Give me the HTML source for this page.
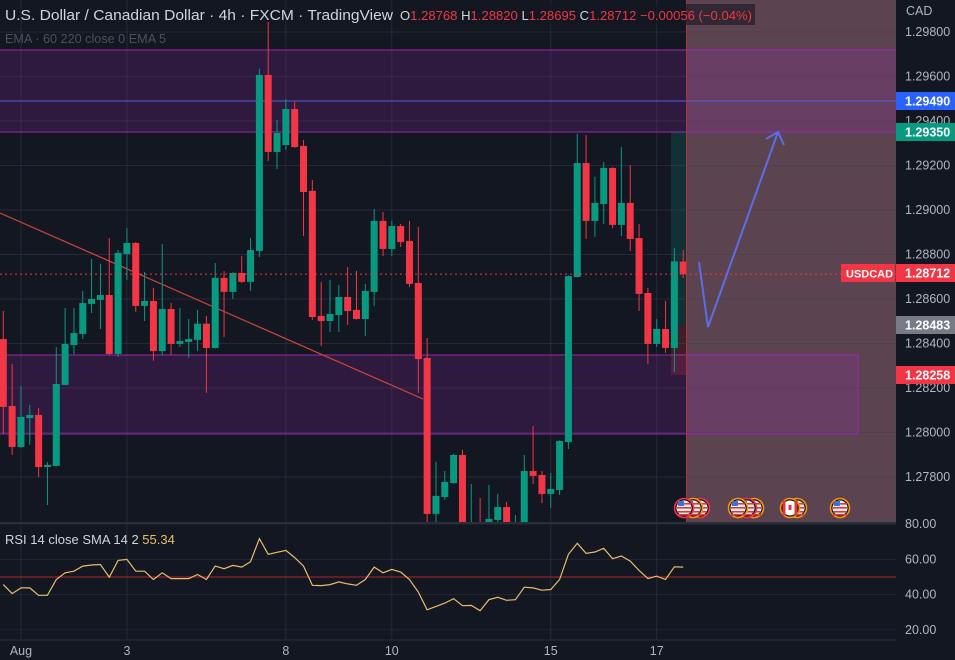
<!DOCTYPE html>
<html><head><meta charset="utf-8">
<style>
html,body{margin:0;padding:0;background:#131722;width:955px;height:660px;overflow:hidden;font-family:"Liberation Sans",sans-serif}
svg{display:block}
</style></head>
<body>
<svg id="chart" width="955" height="660" xmlns="http://www.w3.org/2000/svg"></svg>
<script>
const opens=[1.28420,1.28119,1.27935,1.28065,1.28079,1.27845,1.27850,1.28214,1.28393,1.28443,1.28578,1.28596,1.28618,1.28353,1.28802,1.28852,1.28569,1.28591,1.28366,1.28555,1.28398,1.28407,1.28416,1.28489,1.28380,1.28695,1.28632,1.28717,1.28677,1.28816,1.29607,1.29261,1.29292,1.29454,1.29288,1.29086,1.28524,1.28501,1.28528,1.28609,1.28551,1.28510,1.28632,1.28951,1.28825,1.28928,1.28861,1.28672,1.28335,1.27634,1.27710,1.27773,1.27899,1.27540,1.27559,1.27540,1.27607,1.27665,1.27540,1.27517,1.27827,1.27809,1.27724,1.27742,1.27957,1.28699,1.29211,1.28951,1.29027,1.29189,1.28933,1.29032,1.28874,1.28627,1.28398,1.28465,1.28380,1.28768];
const highs=[1.28546,1.28308,1.28209,1.28124,1.28110,1.27867,1.28384,1.28560,1.28560,1.28636,1.28780,1.28759,1.28874,1.28820,1.28919,1.28855,1.28722,1.28650,1.28847,1.28582,1.28560,1.28510,1.28551,1.28524,1.28762,1.28726,1.28720,1.28793,1.28874,1.29634,1.29845,1.29405,1.29499,1.29486,1.29315,1.29135,1.28677,1.28686,1.28663,1.28744,1.28726,1.28668,1.29005,1.28991,1.28951,1.28937,1.28951,1.28924,1.28425,1.27868,1.27827,1.27904,1.27922,1.27769,1.27706,1.27764,1.27724,1.27688,1.27629,1.27899,1.28029,1.27827,1.27818,1.27965,1.28706,1.29342,1.29337,1.29149,1.29216,1.29192,1.29283,1.29202,1.28937,1.28650,1.28510,1.28591,1.28830,1.28820];
const lows=[1.27993,1.27899,1.27930,1.27944,1.27800,1.27674,1.27848,1.28212,1.28353,1.28420,1.28537,1.28465,1.28348,1.28340,1.28686,1.28542,1.28501,1.28322,1.28348,1.28348,1.28384,1.28335,1.28366,1.28178,1.28378,1.28429,1.28600,1.28672,1.28636,1.28789,1.29220,1.29184,1.29270,1.29279,1.28883,1.28506,1.28389,1.28452,1.28452,1.28483,1.28508,1.28434,1.28569,1.28793,1.28793,1.28834,1.28654,1.28178,1.27584,1.27584,1.27697,1.27770,1.27495,1.27495,1.27495,1.27517,1.27584,1.27517,1.27495,1.27510,1.27769,1.27683,1.27661,1.27719,1.27926,1.28697,1.28870,1.28879,1.28937,1.28919,1.28883,1.28816,1.28546,1.28308,1.28384,1.28358,1.28272,1.28695];
const closes=[1.28115,1.27935,1.28070,1.28079,1.27845,1.27854,1.28218,1.28398,1.28447,1.28582,1.28600,1.28618,1.28353,1.28807,1.28852,1.28569,1.28591,1.28366,1.28555,1.28398,1.28411,1.28420,1.28489,1.28380,1.28695,1.28632,1.28717,1.28677,1.28820,1.29607,1.29261,1.29346,1.29454,1.29283,1.29081,1.28519,1.28501,1.28533,1.28609,1.28546,1.28510,1.28636,1.28951,1.28825,1.28928,1.28856,1.28668,1.28330,1.27634,1.27715,1.27778,1.27899,1.27517,1.27559,1.27540,1.27611,1.27665,1.27540,1.27584,1.27827,1.27805,1.27724,1.27746,1.27962,1.28703,1.29211,1.28951,1.29032,1.29189,1.28933,1.29032,1.28870,1.28623,1.28398,1.28465,1.28380,1.28769,1.28712];
const rsiValues=[45.7,40.6,43.8,43.8,39.6,39.6,48.6,52.4,53.3,56.2,56.8,57.1,49.9,59.4,60,53.3,53.3,48.6,52.4,49.1,49.1,49.1,51.4,48.6,56.2,54.7,56.6,55.6,58.7,71.8,62.9,64,65.1,61,56.2,45.3,45.1,45.7,47.2,46.1,45.3,48.6,55.6,52.4,54.3,52.8,48.6,41.5,31.4,33.3,35.2,37.7,33.7,33.9,30.9,37.1,38.5,36.8,37.1,44.2,43.8,42.5,42.9,48.6,62.9,69.1,63.4,64.2,66.3,60.4,61.9,59,53.7,49.1,50.5,48.6,55.8,55.6];
const priceTicks=[1.298,1.296,1.294,1.292,1.290,1.288,1.286,1.284,1.282,1.280,1.278];
const priceTickLabels=["1.29800","1.29600","1.29400","1.29200","1.29000","1.28800","1.28600","1.28400","1.28200","1.28000","1.27800"];
const rsiTicks=[80,60,40,20];
const rsiTickLabels=["80.00","60.00","40.00","20.00"];
const dateIndex=[2,14,32,44,62,74];
const dateLabels=["Aug","3","8","10","15","17"];

const NS="http://www.w3.org/2000/svg";
const svg=document.getElementById('chart');
const X0=3.3,DX=8.83;
const xS=i=>X0+i*DX;
const yP=p=>32+(1.298-p)*22250;
const yR=v=>577-(v-50)*1.7625;
function el(tag,attrs,parent){const e=document.createElementNS(NS,tag);for(const k in attrs)e.setAttribute(k,attrs[k]);(parent||svg).appendChild(e);return e;}
function txt(s,attrs,parent){const e=el('text',attrs,parent);e.textContent=s;return e;}

const defs=el('defs',{});
const cp=el('clipPath',{id:'mainclip'},defs);el('rect',{x:0,y:0,width:896,height:522},cp);
const cp2=el('clipPath',{id:'rsiclip'},defs);el('rect',{x:0,y:523,width:896,height:117},cp2);

// pink forecast region (below everything)
const pr=el('rect',{x:686,y:0,width:210,height:522,fill:'#5c4350'});



// grid
const grid=el('g',{});


priceTicks.forEach(p=>el('line',{x1:0,x2:896,y1:yP(p),y2:yP(p),stroke:'rgba(60,64,80,0.45)','stroke-width':1},grid));
rsiTicks.forEach(v=>el('line',{x1:0,x2:896,y1:yR(v),y2:yR(v),stroke:'#232632','stroke-width':1},grid));
dateIndex.forEach(i=>el('line',{x1:xS(i),x2:xS(i),y1:0,y2:640,stroke:'rgba(60,64,80,0.45)','stroke-width':1},grid));

// zones
const zones=el('g',{'clip-path':'url(#mainclip)'});


el('rect',{x:0,y:50,width:896,height:82,fill:'rgba(156,39,176,0.2)'},zones);
el('line',{x1:0,x2:896,y1:50,y2:50,stroke:'#9c27b0','stroke-width':1},zones);
el('line',{x1:0,x2:896,y1:132,y2:132,stroke:'#9c27b0','stroke-width':1},zones);
el('line',{x1:0,x2:896,y1:101,y2:101,stroke:'#5b5fd0','stroke-width':1},zones);
el('rect',{x:-1,y:355,width:859,height:79,fill:'rgba(156,39,176,0.2)',stroke:'#9c27b0','stroke-width':1},zones);

// position box
el('rect',{x:671,y:132,width:15,height:193,fill:'rgba(8,153,129,0.2)'});
el('rect',{x:671,y:325,width:15,height:50,fill:'rgba(242,54,69,0.2)'});

const tl=el('line',{x1:0,y1:213,x2:423,y2:399,stroke:'#d2453a','stroke-width':1.2});



const cg=el('g',{'clip-path':'url(#mainclip)'});


for(let i=0;i<opens.length;i++){
  const up=closes[i]>=opens[i];const c=up?'#089981':'#f23645';const x=xS(i);
  const g=el('g',{},cg);
  
  
  el('line',{x1:x,x2:x,y1:yP(highs[i]),y2:yP(lows[i]),stroke:c,'stroke-width':1},g);
  const t=yP(Math.max(opens[i],closes[i])),b=yP(Math.min(opens[i],closes[i]));
  el('rect',{x:x-3.5,y:t,width:7,height:Math.max(1.5,b-t),fill:c},g);
}

el('line',{x1:686.5,x2:686.5,y1:0,y2:522,stroke:'#b2303a','stroke-width':1});
el('line',{x1:0,x2:896,y1:yP(closes[closes.length-1]),y2:yP(closes[closes.length-1]),stroke:'#f23645','stroke-width':1,'stroke-dasharray':'2 3'});

const ar=el('polyline',{points:'699,262 708,327 778,132',fill:'none',stroke:'#5b6ee8','stroke-width':2});


el('polyline',{points:'766,139 778,132 784,145',fill:'none',stroke:'#5b6ee8','stroke-width':2});

const evx=[684,693,700,738,747,754,790,797,840];
const evc=['#f23645','#ff9800','#f23645','#ff9800','#f23645','#ff9800','#ff9800','#ff9800','#ff9800'];
for(let k=evx.length-1;k>=0;k--){
  const g=el('g',{});
  
  
  const ca=(k==6);
  el('circle',{cx:evx[k],cy:508,r:9.5,fill:'#131722',stroke:evc[k],'stroke-width':1.5},g);
  el('circle',{cx:evx[k],cy:508,r:7.5,fill:ca?'#fff':'#f0f0f0'},g);
  if(ca){el('rect',{x:evx[k]-7.5,y:500.5,width:3,height:15,fill:'#e0353a'},g);el('rect',{x:evx[k]+4.5,y:500.5,width:3,height:15,fill:'#e0353a'},g);el('rect',{x:evx[k]-1.5,y:505,width:3,height:5,fill:'#e0353a'},g);}
  else{[503,507,511,514].forEach(yy=>el('rect',{x:evx[k]-7,y:yy,width:14,height:1.6,fill:'#e0353a'},g));el('rect',{x:evx[k]-6,y:501,width:6,height:5,fill:'#3b72d9'},g);}
}

el('rect',{x:0,y:522,width:955,height:2,fill:'#2a2e39'});
el('rect',{x:896,y:0,width:59,height:660,fill:'#131722'});
el('line',{x1:0,x2:896,y1:640,y2:640,stroke:'#2a2e39'});

el('line',{x1:0,x2:896,y1:yR(50),y2:yR(50),stroke:'#b2232c','stroke-width':1});
let pts=rsiValues.map((v,i)=>xS(i).toFixed(1)+','+yR(v).toFixed(1)).join(' ');
const rl=el('polyline',{points:pts,fill:'none',stroke:'#e8bd6a','stroke-width':1.2,'clip-path':'url(#rsiclip)'});



const ax=el('g',{'font-size':'12.5',fill:'#b2b5be'});


priceTicks.forEach((p,i)=>txt(priceTickLabels[i],{x:905,y:yP(p)+4},ax));
rsiTicks.forEach((v,i)=>txt(rsiTickLabels[i],{x:905,y:yR(v)+4},ax));
txt('CAD',{x:906,y:15},ax);
const tx=el('g',{'font-size':'12.5',fill:'#b2b5be','text-anchor':'middle'});


dateIndex.forEach((i,k)=>txt(dateLabels[k],{x:xS(i),y:655},tx));

function badge(y,label,bg,name){const g=el('g',{});el('rect',{x:896,y:y-9,width:59,height:18,fill:bg},g);txt(label,{x:905,y:y+4.5,'font-size':'12.5','font-weight':'bold',fill:'#fff'},g);return g;}
badge(101,'1.29490','#2962ff','badge-1-29490');
badge(132,'1.29350','#089981','badge-1-29350');
badge(273,'1.28712','#f23645','badge-last-price');
badge(325,'1.28483','#787b86','badge-1-28483');
badge(375,'1.28258','#f23645','badge-1-28258');
const sl=el('g',{});
el('rect',{x:841,y:264,width:54,height:18,fill:'#f23645'},sl);
txt('USDCAD',{x:846,y:277.5,'font-size':'11','font-weight':'bold',fill:'#fff'},sl);

const hd=el('g',{});


el('rect',{x:400,y:4,width:355,height:21,fill:'rgba(19,23,34,0.6)'},hd);
txt('U.S. Dollar / Canadian Dollar · 4h · FXCM · TradingView',{x:5,y:20,fill:'#d1d4dc','font-size':'15',textLength:388,lengthAdjust:'spacingAndGlyphs'},hd);
const t2=txt('',{x:400,y:20,'font-size':'13',fill:'#d1d4dc',textLength:352,lengthAdjust:'spacingAndGlyphs'},hd);
t2.innerHTML='O<tspan fill="#f23645">1.28768 </tspan>H<tspan fill="#f23645">1.28820 </tspan>L<tspan fill="#f23645">1.28695 </tspan>C<tspan fill="#f23645">1.28712 −0.00056 (−0.04%)</tspan>';
txt('EMA · 60 220 close 0 EMA 5',{x:5,y:43,fill:'#4c505b','font-size':'13',textLength:161,lengthAdjust:'spacingAndGlyphs'},hd);
const rh=txt('',{x:5,y:544,'font-size':'13',fill:'#d1d4dc'});


rh.innerHTML='RSI 14 close SMA 14 2  <tspan fill="#e8bd6a">55.34</tspan>';
</script>
</body></html>
